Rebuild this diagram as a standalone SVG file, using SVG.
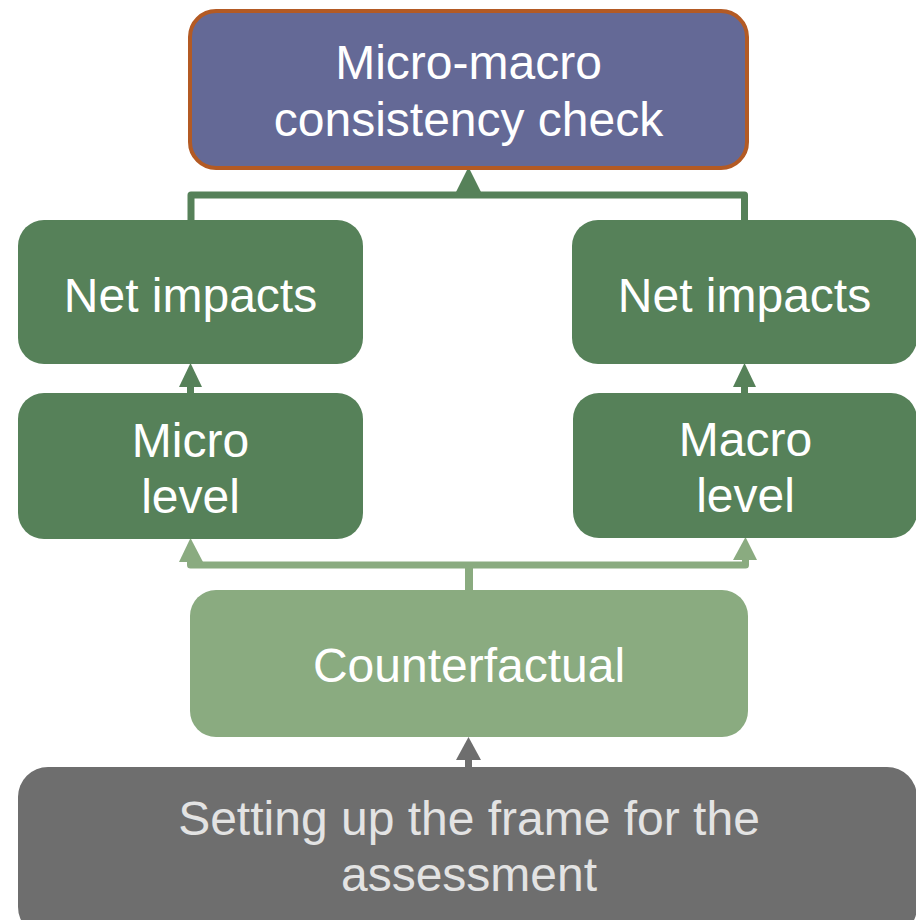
<svg xmlns="http://www.w3.org/2000/svg" width="916" height="920" viewBox="0 0 916 920">
<style>
  text { font-family: "Liberation Sans", Arial, sans-serif; font-size: 48px; text-anchor: middle; fill: #FFFFFF; }
  .dark { fill: #568159; }
  .light { fill: #8AAB80; }
  .gray { fill: #6E6E6E; }
  .conn { fill: none; stroke-width: 7; stroke-linejoin: round; }
  .gtext { fill: #E3E3E3; }
</style>
<rect width="916" height="920" fill="#FFFFFF"/>
<g id="connectors">
  <!-- dark green to top -->
  <path class="conn" d="M191,222 V195 H744.5 V222" stroke="#568159"/>
  <polygon points="468.5,167 456,192 481,192" fill="#568159"/>
  <!-- micro -> net impacts -->
  <line x1="190.5" y1="395" x2="190.5" y2="385" stroke="#568159" stroke-width="7"/>
  <polygon points="190.5,363 179,387 202,387" fill="#568159"/>
  <line x1="744.5" y1="395" x2="744.5" y2="385" stroke="#568159" stroke-width="7"/>
  <polygon points="744.5,363 733,387 756,387" fill="#568159"/>
  <!-- counterfactual -> micro/macro -->
  <path class="conn" d="M190.5,560 V565 H745.5 V560" stroke="#8AAB80"/>
  <line x1="469" y1="565" x2="469" y2="592" stroke="#8AAB80" stroke-width="8"/>
  <polygon points="190.5,538 179,562 203,562" fill="#8AAB80"/>
  <polygon points="745.5,537 733,560 757,560" fill="#8AAB80"/>
  <!-- setting -> counterfactual -->
  <line x1="468.5" y1="769" x2="468.5" y2="757" stroke="#6E6E6E" stroke-width="7"/>
  <polygon points="468.5,737 456,760 481,760" fill="#6E6E6E"/>
</g>
<g id="node-top">
  <rect x="190" y="11" width="557" height="157" rx="26" fill="#646996" stroke="#B35A24" stroke-width="4"/>
  <text x="468.5" y="79">Micro-macro</text>
  <text x="468.5" y="136">consistency check</text>
</g>
<g id="node-net-left">
  <rect class="dark" x="18" y="220" width="345" height="144" rx="26"/>
  <text x="190.5" y="312">Net impacts</text>
</g>
<g id="node-net-right">
  <rect class="dark" x="572" y="220" width="345" height="144" rx="26"/>
  <text x="744.5" y="312">Net impacts</text>
</g>
<g id="node-micro">
  <rect class="dark" x="18" y="393" width="345" height="146" rx="26"/>
  <text x="190.5" y="457">Micro</text>
  <text x="190.5" y="513">level</text>
</g>
<g id="node-macro">
  <rect class="dark" x="573" y="393" width="344" height="145" rx="26"/>
  <text x="745.5" y="456">Macro</text>
  <text x="745.5" y="512">level</text>
</g>
<g id="node-counterfactual">
  <rect class="light" x="190" y="590" width="558" height="147" rx="26"/>
  <text x="469" y="682">Counterfactual</text>
</g>
<g id="node-setting">
  <rect class="gray" x="18" y="767" width="899" height="170" rx="30"/>
  <text class="gtext" x="469" y="835">Setting up the frame for the</text>
  <text class="gtext" x="469" y="891">assessment</text>
</g>
</svg>
